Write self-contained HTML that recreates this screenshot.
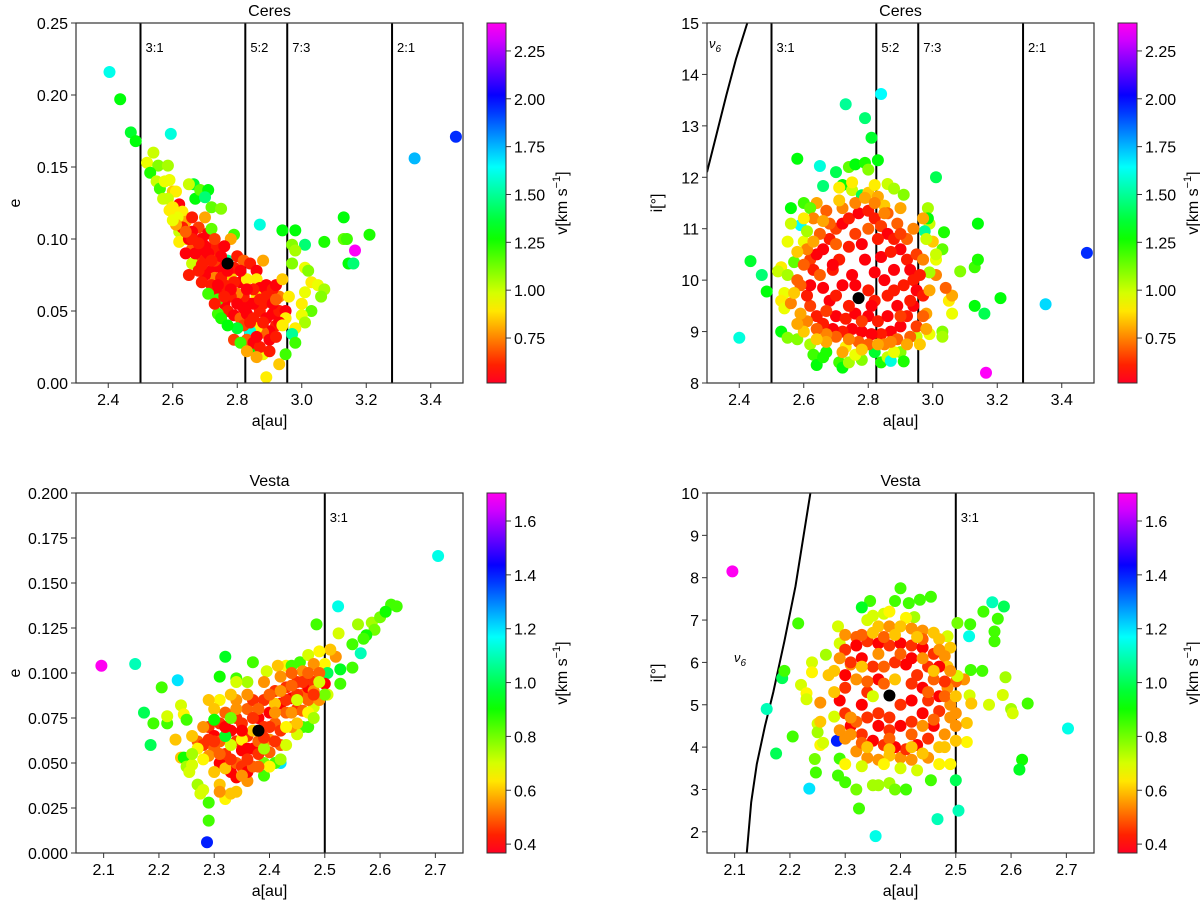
<!DOCTYPE html>
<html><head><meta charset="utf-8">
<style>
html,body{margin:0;padding:0;background:#fff;}
svg{display:block;font-family:"Liberation Sans","DejaVu Sans",sans-serif;}
</style></head>
<body>
<svg id="fig" width="1200" height="901" viewBox="0 0 1200 901"></svg>
<script>
// ---- data ----
const ceresAE = [
[2.404,0.216,1.62],[2.437,0.197,1.3],[2.47,0.174,1.35],[2.485,0.168,1.3],[2.594,0.173,1.6],[3.35,0.156,1.75],[3.478,0.171,1.95],[3.165,0.092,2.38],[2.87,0.110,1.6],[3.21,0.103,1.25],[3.13,0.115,1.3],[3.13,0.100,1.15],[3.14,0.100,1.2],[3.145,0.083,1.3],[3.16,0.083,1.45],[3.07,0.098,1.25],[3.01,0.096,1.45],[2.94,0.106,1.3],[2.98,0.106,1.3],[2.97,0.096,1.1],[2.98,0.092,1.05],[2.97,0.083,1.1],[3.01,0.080,0.95],[3.02,0.078,1.1],[3.03,0.070,0.9],[3.05,0.068,0.95],[3.07,0.065,1.05],[3.06,0.060,1.1],[3.01,0.063,0.95],[3.0,0.055,0.9],[3.03,0.050,1.15],[3.0,0.047,0.95],[3.01,0.042,1.05],[2.98,0.038,0.9],[2.97,0.034,1.5],[2.98,0.028,1.2],[2.95,0.020,1.2],[2.93,0.013,0.85],[2.89,0.004,0.9],[2.88,0.020,0.95],[2.84,0.023,1.3],[2.93,0.060,0.75],
[2.52,0.153,0.95],[2.54,0.160,1.0],[2.555,0.151,1.1],[2.53,0.146,1.25],[2.585,0.151,1.05],[2.55,0.140,1.0],[2.59,0.141,0.95],[2.56,0.135,1.2],[2.575,0.140,0.95],[2.6,0.133,0.85],[2.61,0.133,0.9],[2.585,0.128,1.0],[2.665,0.138,1.35],[2.67,0.128,1.3],[2.685,0.134,1.15],[2.71,0.134,1.3],[2.70,0.129,1.45],[2.72,0.122,1.15],[2.75,0.121,1.1],[2.65,0.138,1.0],[2.62,0.124,0.55],[2.6,0.122,0.9],[2.63,0.119,0.9],[2.64,0.112,0.8],[2.615,0.115,0.95],[2.62,0.105,1.0],[2.66,0.115,0.6],[2.68,0.108,0.65],[2.7,0.115,0.8],[2.66,0.105,0.55],[2.67,0.097,0.6],[2.69,0.1,0.55],[2.71,0.104,0.55],[2.73,0.095,0.6],[2.72,0.107,1.15],[2.79,0.103,1.2],[2.78,0.100,0.8],[2.64,0.1,0.95],[2.66,0.093,0.7],[2.68,0.088,0.65],[2.7,0.085,0.6],[2.72,0.078,0.55],[2.74,0.09,0.6],[2.76,0.095,0.55],[2.77,0.085,1.5],[2.75,0.08,0.55],[2.73,0.073,0.75],[2.7,0.075,0.55],[2.72,0.068,0.6],[2.74,0.063,0.55],[2.76,0.067,0.55],[2.78,0.074,0.85],[2.79,0.08,0.6],[2.8,0.088,0.6],[2.82,0.085,0.7],[2.84,0.083,0.6],[2.86,0.078,0.55],[2.88,0.085,0.8],[2.86,0.072,0.9],[2.87,0.066,0.55],[2.89,0.068,0.55],[2.91,0.065,0.6],[2.92,0.068,0.55],[2.94,0.072,0.85],[2.9,0.058,0.7],[2.88,0.055,0.6],[2.86,0.06,0.9],[2.84,0.055,0.55],[2.82,0.06,0.6],[2.8,0.062,0.75],[2.78,0.06,0.6],[2.76,0.055,0.55],[2.74,0.058,1.2],[2.77,0.05,0.6],[2.79,0.047,0.55],[2.81,0.045,0.7],[2.83,0.048,0.55],[2.85,0.045,0.6],[2.87,0.05,0.6],[2.89,0.045,0.55],[2.91,0.048,0.55],[2.93,0.05,0.6],[2.95,0.05,0.55],[2.92,0.04,0.6],[2.9,0.036,0.55],[2.88,0.035,0.7],[2.86,0.038,0.9],[2.84,0.036,1.6],[2.82,0.04,0.65],[2.8,0.038,1.35],[2.83,0.03,0.7],[2.85,0.028,0.55],[2.87,0.025,0.6],[2.9,0.03,0.55],[2.92,0.032,0.6],[2.9,0.022,0.6],[2.76,0.068,0.6],[2.74,0.048,1.2],[2.66,0.083,1.0],[2.68,0.078,0.6],[2.64,0.09,0.55],[2.62,0.098,0.9],[2.65,0.075,0.6],[2.7,0.095,0.55],[2.73,0.085,0.65],[2.75,0.073,0.6],[2.81,0.07,0.55],[2.83,0.072,0.9],[2.85,0.065,0.6],[2.95,0.045,0.9],[2.96,0.06,0.9]
];
const ceresAEExtra = [
[2.63,0.108,0.6],[2.65,0.1,0.55],[2.67,0.09,0.55],[2.69,0.082,0.6],[2.71,0.09,0.55],[2.73,0.1,0.65],[2.75,0.088,0.55],[2.77,0.078,0.55],[2.79,0.07,0.6],[2.81,0.078,0.55],[2.83,0.065,0.55],[2.85,0.055,0.55],[2.87,0.058,0.6],[2.89,0.06,0.6],[2.91,0.055,0.55],[2.93,0.042,0.55],[2.88,0.042,0.6],[2.86,0.032,0.55],[2.84,0.042,0.6],[2.82,0.052,0.55],[2.8,0.055,0.55],[2.78,0.065,0.55],[2.76,0.06,0.6],[2.74,0.068,0.55],[2.72,0.085,0.6],[2.7,0.092,0.55],[2.68,0.097,0.6],[2.66,0.1,0.6],[2.64,0.105,0.7],[2.69,0.07,0.6],[2.71,0.062,1.2],[2.73,0.055,0.6],[2.75,0.045,1.25],[2.77,0.04,1.3],[2.79,0.03,0.65],[2.81,0.028,1.2],[2.83,0.022,0.8],[2.86,0.018,0.8],[2.92,0.058,0.7],[2.94,0.04,0.9],[2.61,0.11,0.8],[2.59,0.12,0.9],[2.57,0.128,1.0],[2.6,0.113,0.95]
];
const ceresAI = [
[2.40,8.88,1.6],[2.435,10.37,1.35],[2.47,10.1,1.45],[2.485,9.78,1.3],[2.73,13.42,1.5],[2.84,13.62,1.65],[2.79,13.15,1.45],[2.81,12.77,1.35],[2.58,12.36,1.3],[2.65,12.22,1.6],[2.70,12.1,1.4],[2.66,11.83,1.45],[3.01,12.0,1.4],[3.14,11.1,1.3],[3.035,10.93,1.25],[3.03,10.6,1.15],[3.13,10.25,1.2],[3.14,10.4,1.25],[3.085,10.17,1.1],[3.21,9.65,1.3],[3.13,9.5,1.3],[3.16,9.35,1.4],[3.35,9.53,1.7],[3.478,10.53,1.95],[3.165,8.2,2.38],[2.59,11.07,1.65],[2.56,11.4,1.3],
[2.74,12.2,1.15],[2.76,12.25,1.3],[2.79,12.28,1.25],[2.83,12.33,1.3],[2.8,12.15,1.1],[2.72,11.85,1.3],[2.71,11.8,0.9],[2.75,11.75,1.0],[2.78,11.65,1.4],[2.8,11.7,0.85],[2.83,11.62,0.8],[2.86,11.87,1.0],[2.88,11.78,1.05],[2.91,11.66,1.1],[2.85,11.45,0.85],[2.64,11.5,0.8],[2.6,11.5,1.2],[2.56,11.1,1.0],[2.55,10.75,0.95],[2.62,11.4,1.15],[2.63,11.2,0.75],[2.67,11.35,0.7],[2.6,11.2,0.9],[2.6,10.75,0.95],[2.61,10.95,1.05],[2.53,10.25,0.9],[2.52,10.17,1.0],[2.55,10.1,1.05],[2.57,10.35,1.15],[2.54,9.75,0.95],[2.53,9.6,0.9],[2.54,9.45,0.95],[2.56,9.55,0.75],[2.53,9.0,1.3],[2.55,8.88,1.1],[2.58,8.85,1.1],[2.62,8.75,1.05],[2.63,8.55,1.2],[2.64,8.35,1.3],[2.66,8.5,1.25],[2.67,8.6,1.25],[2.71,8.4,1.2],[2.72,8.3,1.3],[2.74,8.4,1.05],[2.78,8.45,1.1],[2.82,8.6,1.35],[2.84,8.4,1.25],[2.86,8.5,1.0],[2.87,8.43,1.6],[2.9,8.6,1.1],[2.91,8.42,1.25],[2.88,8.6,0.95],[2.76,8.55,0.95],[2.73,8.7,0.9],[2.95,8.9,1.0],[2.99,8.95,0.95],[3.03,9.0,1.1],[3.03,8.9,1.05],[2.98,9.35,0.8],[3.06,9.35,0.95],[3.05,9.6,0.9],[3.06,9.7,0.8],[3.04,9.85,0.7],[3.01,10.1,0.75],[2.99,10.15,1.05],[3.01,10.4,0.95],[3.01,10.5,1.0],[3.0,10.75,0.85],[2.99,11.1,1.0],[2.985,11.4,1.05],[2.975,10.95,1.5],[2.985,11.2,1.3],[2.98,10.8,1.0],[2.97,11.2,0.8],
[2.62,10.4,0.65],[2.63,10.2,0.6],[2.64,10.5,0.55],[2.66,10.6,0.55],[2.68,10.8,0.6],[2.70,11.0,0.65],[2.72,11.1,0.55],[2.74,11.2,0.6],[2.77,11.3,0.55],[2.80,11.35,0.6],[2.82,11.2,0.6],[2.84,11.05,0.65],[2.86,10.9,0.55],[2.88,10.8,0.6],[2.90,10.6,0.55],[2.92,10.4,0.6],[2.93,10.2,0.55],[2.94,10.0,0.6],[2.95,9.8,0.55],[2.94,9.5,0.55],[2.92,9.3,0.6],[2.90,9.1,0.55],[2.87,9.0,0.55],[2.84,8.95,0.6],[2.81,8.95,0.55],[2.78,9.0,0.55],[2.75,9.05,0.55],[2.72,9.0,0.6],[2.69,9.05,0.55],[2.66,9.15,0.6],[2.64,9.3,0.6],[2.62,9.5,0.65],[2.61,9.7,0.6],[2.62,9.9,0.55],[2.66,9.85,0.55],[2.68,9.6,0.55],[2.70,9.3,0.55],[2.73,9.25,0.6],[2.76,9.35,0.55],[2.80,9.3,0.55],[2.83,9.2,0.6],[2.86,9.3,0.55],[2.89,9.5,0.55],[2.91,9.9,0.6],[2.88,10.2,0.55],[2.85,10.0,0.55],[2.82,10.15,0.55],[2.79,10.4,0.55],[2.78,10.7,0.55],[2.74,10.65,0.6],[2.71,10.4,0.6],[2.69,10.2,0.6],[2.72,9.9,0.55],[2.65,10.9,0.7],[2.68,11.1,0.7],[2.72,11.4,0.75],[2.76,11.5,0.75],[2.79,11.6,0.8],[2.82,11.5,0.75],[2.86,11.3,0.7],[2.89,11.1,0.7],[2.92,10.8,0.7],[2.95,10.5,0.65],[2.96,10.1,0.6],[2.97,9.7,0.6],[2.97,9.3,0.7],[2.95,9.1,0.65],[2.93,8.9,0.7],[2.89,8.85,0.7],[2.85,8.75,0.75],[2.80,8.75,0.7],[2.77,8.8,0.7],[2.74,8.85,0.75],[2.70,8.9,0.7],[2.67,8.95,0.75],[2.64,9.05,0.7],[2.61,9.2,0.75],[2.59,9.35,0.8],[2.59,9.9,0.7],[2.60,10.3,0.7],[2.61,10.6,0.75],[2.58,10.0,0.7],[2.80,9.8,0.6],[2.75,10.1,0.55],[2.84,10.45,0.55],[2.87,10.55,0.6],[2.69,10.3,0.55]
];
const ceresAIExtra = [
[2.65,10.1,0.7],[2.67,9.4,0.65],[2.7,9.7,0.6],[2.74,9.5,0.6],[2.78,9.2,0.65],[2.82,9.6,0.6],[2.86,9.7,0.6],[2.9,9.3,0.65],[2.88,9.8,0.6],[2.83,10.8,0.6],[2.76,10.9,0.65],[2.7,10.7,0.7],[2.8,11.0,0.7],[2.85,11.3,0.75],[2.9,10.9,0.65],[2.93,9.6,0.6],[2.67,8.8,0.8],[2.72,8.6,0.8],[2.78,8.65,0.85],[2.83,8.75,0.8],[2.87,8.8,0.75],[2.92,8.75,0.8],[2.64,8.85,0.85],[2.6,9.0,0.85],[2.58,9.15,0.8],[2.57,9.75,0.85],[2.58,10.55,0.85],[2.63,10.75,0.8],[2.66,11.15,0.8],[2.71,11.55,0.85],[2.75,11.9,0.9],[2.82,11.85,0.9],[2.9,11.4,0.8],[2.94,11.0,0.75],[2.97,10.4,0.75],[2.99,9.8,0.8],[2.98,9.05,0.8],[2.96,8.75,0.85],[2.76,9.9,0.55],[2.81,9.5,0.55]
];
const vestaAE = [
[2.096,0.104,1.7],[2.157,0.105,1.1],[2.234,0.096,1.2],[2.205,0.092,0.85],[2.173,0.078,1.0],[2.19,0.072,0.85],[2.215,0.072,0.85],[2.185,0.06,1.0],[2.215,0.076,0.7],[2.23,0.063,0.6],[2.24,0.082,0.7],[2.245,0.077,0.65],[2.25,0.074,0.85],[2.24,0.053,0.6],[2.245,0.053,0.9],[2.25,0.048,0.75],[2.26,0.049,0.7],[2.255,0.045,0.7],[2.27,0.038,0.75],[2.275,0.033,0.7],[2.28,0.035,0.7],[2.29,0.028,0.85],[2.29,0.018,0.85],[2.287,0.006,1.4],[2.32,0.109,0.95],[2.37,0.106,0.85],[2.31,0.098,0.9],[2.34,0.097,0.85],[2.395,0.101,0.7],[2.43,0.104,0.65],[2.415,0.104,0.6],[2.485,0.127,0.85],[2.524,0.137,1.15],[2.705,0.165,1.15],[2.525,0.122,0.7],[2.56,0.127,0.75],[2.585,0.128,0.75],[2.6,0.131,0.8],[2.62,0.138,0.85],[2.63,0.137,0.85],[2.61,0.134,0.9],[2.59,0.124,0.8],[2.575,0.121,0.9],[2.57,0.119,0.85],[2.55,0.116,0.85],[2.565,0.111,1.1],[2.55,0.103,0.85],[2.528,0.094,0.85],[2.528,0.102,0.95],[2.52,0.109,0.55],[2.51,0.113,0.6],[2.5,0.105,0.65],[2.505,0.1,1.0],[2.505,0.088,0.7],[2.48,0.081,0.7],[2.47,0.07,0.85],[2.46,0.07,0.85],[2.45,0.066,0.7],[2.42,0.05,1.2],[2.41,0.05,0.85],[2.39,0.043,0.85],[2.39,0.05,0.8],[2.32,0.03,0.65],[2.33,0.033,0.6],[2.34,0.034,0.6],[2.31,0.038,0.6],[2.31,0.034,0.55],[2.36,0.04,0.55],[2.44,0.104,0.85],[2.455,0.106,0.85],[2.47,0.11,0.7],[2.49,0.112,0.65],[2.48,0.105,0.55],[2.46,0.101,0.55],[2.47,0.097,0.4],
[2.27,0.062,0.5],[2.28,0.06,0.45],[2.29,0.07,0.45],[2.3,0.065,0.4],[2.31,0.072,0.45],[2.3,0.058,0.5],[2.31,0.05,0.4],[2.32,0.055,0.45],[2.32,0.078,0.5],[2.33,0.068,0.4],[2.34,0.062,0.45],[2.33,0.045,0.4],[2.34,0.05,0.5],[2.35,0.057,0.4],[2.35,0.072,0.45],[2.36,0.08,0.5],[2.36,0.065,0.45],[2.37,0.058,0.4],[2.37,0.085,0.45],[2.38,0.075,0.4],[2.38,0.062,0.5],[2.39,0.07,0.45],[2.39,0.085,0.45],[2.4,0.078,0.4],[2.4,0.063,0.55],[2.41,0.09,0.45],[2.41,0.072,0.5],[2.42,0.083,0.4],[2.42,0.068,0.45],[2.43,0.092,0.45],[2.43,0.078,0.5],[2.44,0.086,0.4],[2.44,0.07,0.55],[2.45,0.095,0.45],[2.45,0.08,0.45],[2.46,0.088,0.5],[2.47,0.092,0.4],[2.48,0.095,0.45],[2.49,0.1,0.5],[2.5,0.094,0.4],[2.35,0.048,0.45],[2.36,0.045,0.4],[2.37,0.048,0.5],[2.34,0.042,0.4],[2.31,0.062,0.5],[2.29,0.054,0.55],[2.28,0.07,0.55],[2.38,0.055,0.45],[2.4,0.056,0.5],[2.42,0.06,0.5],[2.44,0.078,0.55],[2.46,0.079,0.5],[2.47,0.085,0.5],[2.48,0.09,0.55],[2.49,0.085,0.55],[2.36,0.088,0.55],[2.34,0.085,0.55],[2.33,0.088,0.6],[2.31,0.085,0.65],[2.29,0.085,0.6],[2.3,0.08,0.6],[2.39,0.095,0.55],[2.42,0.098,0.55],[2.44,0.1,0.5],[2.41,0.083,0.6],[2.37,0.068,0.6],[2.35,0.063,0.65],[2.33,0.06,0.7],[2.32,0.047,0.6],[2.39,0.058,0.75],[2.43,0.06,0.7],[2.42,0.052,0.75],[2.4,0.048,0.65],[2.27,0.058,0.65],[2.26,0.065,0.6],[2.45,0.072,0.6],[2.47,0.078,0.65],[2.48,0.075,0.75],[2.5,0.088,0.8],[2.49,0.095,0.7],[2.36,0.095,0.75],[2.34,0.095,0.7],[2.3,0.074,0.9],[2.32,0.065,0.95]
];
const vestaAEExtra = [
[2.3,0.062,0.45],[2.32,0.07,0.4],[2.34,0.075,0.45],[2.36,0.058,0.4],[2.38,0.08,0.5],[2.4,0.07,0.45],[2.41,0.062,0.45],[2.43,0.085,0.45],[2.45,0.088,0.45],[2.46,0.095,0.45],[2.44,0.093,0.5],[2.42,0.09,0.55],[2.37,0.075,0.45],[2.35,0.068,0.4],[2.33,0.052,0.45],[2.31,0.055,0.5],[2.29,0.063,0.45],[2.36,0.052,0.45],[2.38,0.048,0.5],[2.34,0.08,0.55],[2.4,0.088,0.5],[2.47,0.1,0.5],[2.48,0.088,0.45],[2.41,0.078,0.55],[2.39,0.064,0.45],[2.35,0.043,0.55],[2.3,0.045,0.6],[2.28,0.052,0.65],[2.26,0.055,0.75],[2.33,0.075,0.8],[2.43,0.07,0.65],[2.45,0.085,0.7]
];
const vestaAI = [
[2.096,8.15,1.7],[2.158,4.9,1.1],[2.175,3.85,1.0],[2.186,5.63,1.0],[2.19,5.8,0.85],[2.205,4.25,0.85],[2.215,6.92,0.85],[2.22,5.47,0.7],[2.235,3.02,1.2],[2.23,5.27,0.65],[2.23,5.13,0.7],[2.24,6.0,0.7],[2.24,5.77,0.65],[2.245,3.72,0.8],[2.247,3.4,0.85],[2.25,4.55,0.7],[2.25,4.35,0.75],[2.255,4.05,0.65],[2.26,4.1,0.7],[2.265,6.18,0.75],[2.27,5.7,0.6],[2.255,4.6,0.6],[2.255,5.05,0.55],[2.28,4.72,0.7],[2.285,4.15,1.4],[2.287,6.85,0.7],[2.29,6.45,0.7],[2.29,3.73,0.85],[2.287,3.33,0.85],[2.3,3.17,0.85],[2.3,3.6,0.65],[2.32,3.0,0.8],[2.325,2.55,0.85],[2.355,1.9,1.15],[2.35,3.1,0.75],[2.36,3.1,0.75],[2.38,3.15,0.75],[2.39,3.0,0.8],[2.41,3.0,0.85],[2.455,3.22,0.85],[2.467,2.3,1.1],[2.47,3.6,0.65],[2.49,3.6,0.65],[2.5,3.22,1.0],[2.505,2.5,1.1],[2.524,6.62,1.15],[2.526,6.9,0.85],[2.503,6.93,0.8],[2.527,5.82,0.85],[2.548,5.8,0.85],[2.55,7.2,0.85],[2.566,7.42,1.1],[2.576,7.03,0.85],[2.57,6.73,0.85],[2.57,6.5,0.85],[2.587,7.32,1.0],[2.59,5.65,0.75],[2.585,5.23,0.7],[2.56,5.0,0.7],[2.6,4.9,0.75],[2.603,4.8,0.7],[2.63,5.03,0.85],[2.62,3.7,0.9],[2.615,3.47,0.95],[2.703,4.44,1.15],[2.525,5.22,0.7],[2.528,5.03,0.6],[2.52,4.57,0.6],[2.52,4.12,0.65],[2.5,4.15,0.6],[2.5,4.5,0.55],[2.515,5.6,0.55],[2.5,5.55,0.5],[2.503,5.68,0.7],[2.485,6.62,0.7],[2.49,6.35,0.6],
[2.345,7.45,0.85],[2.33,7.3,0.95],[2.34,7.0,0.7],[2.35,7.1,0.7],[2.37,7.15,0.7],[2.38,7.2,0.65],[2.39,7.45,0.85],[2.4,7.75,0.85],[2.415,7.4,0.85],[2.435,7.48,0.85],[2.455,7.55,0.85],[2.425,7.07,0.75],[2.41,7.05,0.65],[2.36,6.85,0.6],[2.38,6.85,0.55],[2.4,6.85,0.6],[2.42,6.8,0.55],[2.44,6.75,0.55],[2.46,6.7,0.6],[2.47,6.55,0.6],[2.3,6.65,0.55],[2.32,6.6,0.5],[2.34,6.55,0.5],[2.31,5.95,0.55],[2.48,6.15,0.55],[2.485,5.9,0.6],[2.485,5.4,0.55],[2.49,5.0,0.55],[2.49,4.7,0.55],[2.48,4.3,0.55],[2.47,4.0,0.6],[2.45,3.75,0.55],[2.42,3.7,0.55],[2.4,3.75,0.55],[2.38,3.8,0.6],[2.36,3.7,0.55],[2.34,3.75,0.55],[2.32,3.9,0.55],[2.3,4.2,0.55],[2.29,4.4,0.55],
[2.3,6.3,0.45],[2.32,6.4,0.4],[2.34,6.5,0.45],[2.36,6.45,0.4],[2.38,6.4,0.45],[2.4,6.45,0.4],[2.42,6.4,0.45],[2.44,6.35,0.4],[2.46,6.2,0.45],[2.47,5.9,0.4],[2.48,5.55,0.45],[2.47,5.2,0.4],[2.47,4.85,0.45],[2.46,4.5,0.4],[2.45,4.2,0.45],[2.43,4.05,0.4],[2.41,3.95,0.45],[2.39,4.0,0.4],[2.37,4.05,0.45],[2.35,4.15,0.4],[2.33,4.3,0.45],[2.31,4.5,0.4],[2.3,4.8,0.45],[2.29,5.1,0.4],[2.3,5.4,0.45],[2.3,5.7,0.4],[2.31,6.0,0.45],[2.33,6.1,0.4],[2.35,5.9,0.45],[2.36,5.6,0.4],[2.34,5.3,0.45],[2.33,5.0,0.4],[2.34,4.7,0.45],[2.36,4.5,0.4],[2.38,4.4,0.45],[2.4,4.5,0.4],[2.42,4.6,0.45],[2.44,4.8,0.4],[2.45,5.1,0.45],[2.44,5.4,0.4],[2.43,5.7,0.45],[2.41,5.95,0.4],[2.39,6.0,0.45],[2.42,6.1,0.4],[2.45,5.9,0.45],[2.4,5.0,0.45],[2.42,5.1,0.4],[2.36,4.8,0.45],[2.32,4.6,0.5],[2.31,4.3,0.55],[2.33,4.1,0.5],[2.38,4.2,0.5],[2.42,4.3,0.5],[2.46,4.65,0.5],[2.48,5.2,0.5],[2.46,5.6,0.5],[2.37,5.5,0.5],[2.35,5.2,0.7],[2.39,5.6,0.6],[2.44,6.55,0.5],[2.33,6.65,0.5],[2.37,6.6,0.5]
];
const vestaAIExtra = [
[2.32,5.6,0.55],[2.33,5.9,0.6],[2.36,6.2,0.55],[2.4,6.2,0.5],[2.44,6.1,0.55],[2.46,5.8,0.6],[2.45,5.3,0.5],[2.44,4.5,0.55],[2.42,4.0,0.6],[2.38,3.95,0.6],[2.34,4.0,0.6],[2.31,4.7,0.55],[2.28,5.3,0.6],[2.28,5.8,0.6],[2.29,6.1,0.55],[2.35,6.7,0.6],[2.39,6.65,0.6],[2.43,6.6,0.6],[2.47,6.3,0.55],[2.49,5.8,0.55],[2.5,5.2,0.6],[2.5,4.8,0.55],[2.48,4.0,0.6],[2.44,3.85,0.6],[2.37,3.6,0.65],[2.33,3.55,0.7],[2.4,3.5,0.7],[2.43,3.45,0.7],[2.37,5.9,0.5],[2.42,5.5,0.45],[2.38,4.7,0.45],[2.34,5.55,0.5]
];
const ceresBody = [2.77, 0.083, 9.65];
const vestaBody = [2.38, 0.068, 5.22];
const ceresResA = [2.5, 2.825, 2.955, 3.28];
const ceresResLbl = ["3:1", "5:2", "7:3", "2:1"];
const vestaResA = [2.5];
const vestaResLbl = ["3:1"];
const nu6CeresA = [2.30, 2.33, 2.36, 2.39, 2.425];
const nu6CeresI = [12.1, 12.85, 13.6, 14.3, 15.0];
const nu6VestaA = [2.122, 2.13, 2.14, 2.155, 2.17, 2.19, 2.21, 2.237];
const nu6VestaI = [1.5, 2.7, 3.6, 4.5, 5.3, 6.5, 7.8, 10.0];
const ceresCbTicks = [0.75, 1.00, 1.25, 1.50, 1.75, 2.00, 2.25];
const vestaCbTicks = [0.4, 0.6, 0.8, 1.0, 1.2, 1.4, 1.6];

// ---- drawing ----
const NS = "http://www.w3.org/2000/svg";
const svg = document.getElementById('fig');
function mk(tag, attrs, parent) {
  const el = document.createElementNS(NS, tag);
  for (const k in attrs) el.setAttribute(k, attrs[k]);
  (parent || svg).appendChild(el);
  return el;
}
function cmap(v, vmin, vmax) {
  let t = (v - vmin) / (vmax - vmin);
  t = Math.max(0, Math.min(1, t));
  let h = -8 + t * 312;
  if (h < 0) h += 360;
  return 'hsl(' + h.toFixed(1) + ',100%,50%)';
}
function fmt(v, d) { return v.toFixed(d); }

function panel(cfg) {
  const g = mk('g', {});
  
  
  const L = cfg.x0, R = cfg.x1, T = cfg.y0, B = cfg.y1;
  const sx = a => L + (a - cfg.xmin) / (cfg.xmax - cfg.xmin) * (R - L);
  const sy = v => B - (v - cfg.ymin) / (cfg.ymax - cfg.ymin) * (B - T);
  const cid = 'clip-' + cfg.name;
  const cp = mk('clipPath', { id: cid }, g);
  mk('rect', { x: L, y: T, width: R - L, height: B - T }, cp);
  const plot = mk('g', { 'clip-path': 'url(#' + cid + ')' }, g);
  cfg.resA.forEach((a, i) => {
    const ln = mk('line', { x1: sx(a), x2: sx(a), y1: T, y2: B, stroke: '#000', 'stroke-width': 2 }, plot);
    
    
    const tx = mk('text', { x: sx(a) + 5, y: T + 29, 'font-size': 13 }, g);
    tx.textContent = cfg.resL[i];
    
    
  });
  if (cfg.nuA) {
    const pts = cfg.nuA.map((a, i) => sx(a).toFixed(1) + ',' + sy(cfg.nuI[i]).toFixed(1)).join(' ');
    const pl = mk('polyline', { points: pts, fill: 'none', stroke: '#000', 'stroke-width': 2 }, plot);
    
    
    const nt = mk('text', { x: cfg.nuLx, y: cfg.nuLy, 'font-size': 13, 'font-style': 'italic' }, g);
    
    
    nt.innerHTML = 'ν<tspan font-size="10" dy="4">6</tspan>';
  }
  cfg.pts.forEach(p => {
    const c = mk('circle', { cx: sx(p[0]).toFixed(1), cy: sy(p[1]).toFixed(1), r: 6, fill: cmap(p[2], cfg.vmin, cfg.vmax) }, plot);
    
    
  });
  const bc = mk('circle', { cx: sx(cfg.body[0]), cy: sy(cfg.body[1]), r: 6, fill: '#000' }, plot);
  
  
  const fr = mk('rect', { x: L, y: T, width: R - L, height: B - T, fill: 'none', stroke: '#333', 'stroke-width': 1.2 }, g);
  
  
  cfg.xticks.forEach(v => {
    mk('line', { x1: sx(v), x2: sx(v), y1: B, y2: B + 5, stroke: '#333' }, g);
    const t = mk('text', { x: sx(v), y: B + 22, 'font-size': 16, 'text-anchor': 'middle' }, g);
    t.textContent = fmt(v, 1);
    
    
  });
  cfg.yticks.forEach(v => {
    mk('line', { x1: L - 5, x2: L, y1: sy(v), y2: sy(v), stroke: '#333' }, g);
    const t = mk('text', { x: L - 8, y: sy(v) + 6, 'font-size': 16, 'text-anchor': 'end' }, g);
    t.textContent = fmt(v, cfg.ydec);
    
    
  });
  const xl = mk('text', { x: (L + R) / 2, y: B + 43, 'font-size': 16, 'text-anchor': 'middle' }, g);
  xl.textContent = 'a[au]';
  
  
  const yl = mk('text', { x: 0, y: 0, 'font-size': 16, 'text-anchor': 'middle', transform: 'translate(' + cfg.ylx + ',' + ((T + B) / 2) + ') rotate(-90)' }, g);
  yl.textContent = cfg.ylabel;
  
  
  const ti = mk('text', { x: (L + R) / 2, y: T - 7, 'font-size': 16, 'text-anchor': 'middle' }, g);
  ti.textContent = cfg.title;
  
  
  const cbx = cfg.cbx, cbw = 19;
  const gid = 'grad-' + cfg.name;
  const gr = mk('linearGradient', { id: gid, x1: 0, y1: 1, x2: 0, y2: 0 }, g);
  for (let i = 0; i <= 20; i++) {
    const v = cfg.vmin + (cfg.vmax - cfg.vmin) * i / 20;
    mk('stop', { offset: (i / 20), 'stop-color': cmap(v, cfg.vmin, cfg.vmax) }, gr);
  }
  const cb = mk('rect', { x: cbx, y: T, width: cbw, height: B - T, fill: 'url(#' + gid + ')', stroke: '#333', 'stroke-width': 1 }, g);
  
  
  const cy = v => B - (v - cfg.vmin) / (cfg.vmax - cfg.vmin) * (B - T);
  cfg.cbTicks.forEach(v => {
    mk('line', { x1: cbx + cbw, x2: cbx + cbw + 5, y1: cy(v), y2: cy(v), stroke: '#333' }, g);
    const t = mk('text', { x: cbx + cbw + 8, y: cy(v) + 6, 'font-size': 16 }, g);
    t.textContent = fmt(v, cfg.cbDec);
    
    
  });
  const cl = mk('text', { x: 0, y: 0, 'font-size': 16, 'text-anchor': 'middle', transform: 'translate(' + (cbx + 80) + ',' + ((T + B) / 2) + ') rotate(-90)' }, g);
  cl.innerHTML = 'v[km s<tspan font-size="11" dy="-7">−1</tspan><tspan dy="7">]</tspan>';
  
  
}

panel({ name: 'ceres-a-e', title: 'Ceres', x0: 76, x1: 463, y0: 23, y1: 383, xmin: 2.3, xmax: 3.5, ymin: 0, ymax: 0.25,
  xticks: [2.4, 2.6, 2.8, 3.0, 3.2, 3.4], yticks: [0, 0.05, 0.10, 0.15, 0.20, 0.25], ydec: 2, ylabel: 'e', ylx: 20,
  pts: ceresAE.concat(ceresAEExtra), body: [ceresBody[0], ceresBody[1]], resA: ceresResA, resL: ceresResLbl,
  vmin: 0.515, vmax: 2.396, cbx: 487, cbTicks: ceresCbTicks, cbDec: 2 });
panel({ name: 'ceres-a-i', title: 'Ceres', x0: 707, x1: 1094, y0: 23, y1: 383, xmin: 2.3, xmax: 3.5, ymin: 8, ymax: 15,
  xticks: [2.4, 2.6, 2.8, 3.0, 3.2, 3.4], yticks: [8, 9, 10, 11, 12, 13, 14, 15], ydec: 0, ylabel: 'i[°]', ylx: 662,
  pts: ceresAI.concat(ceresAIExtra), body: [ceresBody[0], ceresBody[2]], resA: ceresResA, resL: ceresResLbl,
  nuA: nu6CeresA, nuI: nu6CeresI, nuLx: 709, nuLy: 48,
  vmin: 0.515, vmax: 2.396, cbx: 1118, cbTicks: ceresCbTicks, cbDec: 2 });
panel({ name: 'vesta-a-e', title: 'Vesta', x0: 76, x1: 463, y0: 493, y1: 853, xmin: 2.05, xmax: 2.75, ymin: 0, ymax: 0.2,
  xticks: [2.1, 2.2, 2.3, 2.4, 2.5, 2.6, 2.7], yticks: [0, 0.025, 0.05, 0.075, 0.1, 0.125, 0.15, 0.175, 0.2], ydec: 3, ylabel: 'e', ylx: 20,
  pts: vestaAE.concat(vestaAEExtra), body: [vestaBody[0], vestaBody[1]], resA: vestaResA, resL: vestaResLbl,
  vmin: 0.367, vmax: 1.704, cbx: 487, cbTicks: vestaCbTicks, cbDec: 1 });
panel({ name: 'vesta-a-i', title: 'Vesta', x0: 707, x1: 1094, y0: 493, y1: 853, xmin: 2.05, xmax: 2.75, ymin: 1.5, ymax: 10,
  xticks: [2.1, 2.2, 2.3, 2.4, 2.5, 2.6, 2.7], yticks: [2, 3, 4, 5, 6, 7, 8, 9, 10], ydec: 0, ylabel: 'i[°]', ylx: 662,
  pts: vestaAI.concat(vestaAIExtra), body: [vestaBody[0], vestaBody[2]], resA: vestaResA, resL: vestaResLbl,
  nuA: nu6VestaA, nuI: nu6VestaI, nuLx: 734, nuLy: 662,
  vmin: 0.367, vmax: 1.704, cbx: 1118, cbTicks: vestaCbTicks, cbDec: 1 });
</script>
</body></html>
